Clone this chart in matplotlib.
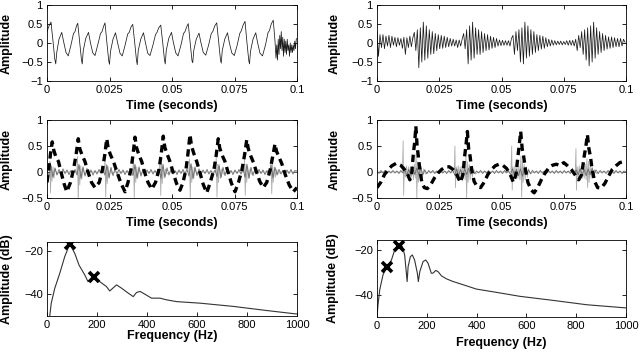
import numpy as np
import matplotlib
matplotlib.use("Agg")
import matplotlib.pyplot as plt

plt.rcParams['font.family'] = ['Liberation Sans', 'DejaVu Sans']

# ---- data (times in ms) ----
# top left: periodic speech waveform
tl_pts = [
    (0, 0.30), (0.8, 0.45), (1.6, 0.55),
    (2.4, 0.05), (3.1, -0.42), (3.5, -0.55), (3.9, -0.25), (4.8, 0.10), (5.9, 0.28), (6.6, 0.05),
    (7.6, -0.25), (8.5, -0.34), (9.6, -0.05), (10.6, 0.25), (11.2, 0.30), (11.8, 0.45), (12.3, 0.52),
    (13.1, 0.00), (13.8, -0.45), (14.1, -0.55), (14.5, -0.20), (15.5, 0.12), (16.6, 0.28), (17.3, 0.03),
    (18.3, -0.26), (19.2, -0.33), (20.3, -0.05), (21.4, 0.25), (22.0, 0.30), (22.7, 0.45), (23.2, 0.53),
    (24.0, -0.02), (24.7, -0.47), (25.0, -0.56), (25.4, -0.22), (26.4, 0.10), (27.4, 0.27), (28.2, 0.02),
    (29.2, -0.27), (30.1, -0.34), (31.3, -0.04), (32.3, 0.24), (32.9, 0.28), (33.6, 0.42), (34.3, 0.49),
    (35.1, 0.00), (35.8, -0.46), (36.1, -0.57), (36.5, -0.20), (37.5, 0.10), (38.6, 0.27), (39.3, 0.03),
    (40.3, -0.27), (41.2, -0.33), (42.4, -0.05), (43.4, 0.22), (44.0, 0.28), (44.7, 0.40), (45.5, 0.47),
    (46.3, 0.00), (47.0, -0.45), (47.3, -0.55), (47.7, -0.20), (48.7, 0.12), (49.8, 0.28), (50.5, 0.03),
    (51.5, -0.26), (52.4, -0.34), (53.6, -0.05), (54.6, 0.25), (55.2, 0.30), (55.9, 0.43), (56.5, 0.51),
    (57.3, 0.00), (58.0, -0.47), (58.3, -0.52), (58.7, -0.20), (59.7, 0.10), (60.8, 0.26), (61.5, 0.03),
    (62.5, -0.25), (63.5, -0.32), (64.7, -0.04), (65.7, 0.25), (66.3, 0.30), (67.1, 0.45), (67.9, 0.53),
    (68.7, 0.00), (69.4, -0.45), (69.7, -0.53), (70.1, -0.20), (71.1, 0.10), (72.2, 0.27), (72.9, 0.02),
    (73.9, -0.26), (74.9, -0.33), (76.1, -0.05), (77.1, 0.25), (77.7, 0.32), (78.5, 0.48), (79.2, 0.57),
    (80.0, 0.00), (80.7, -0.46), (81.0, -0.55), (81.4, -0.22), (82.4, 0.10), (83.5, 0.27), (84.2, 0.02),
    (85.2, -0.27), (86.2, -0.34), (87.4, -0.05), (88.4, 0.27), (89.0, 0.33), (89.7, 0.50), (90.5, 0.60),
    (91.2, 0.05), (91.6, -0.40), (91.9, -0.05), (92.2, -0.45), (92.5, 0.10), (92.8, -0.30), (93.1, 0.20),
    (93.4, -0.15), (93.7, 0.30), (94.0, -0.20), (94.3, 0.15), (94.6, -0.35), (94.9, 0.10), (95.2, -0.25),
    (95.5, 0.05), (95.8, -0.30), (96.1, 0.10), (96.4, -0.20), (96.7, -0.05), (97.0, -0.35), (97.3, 0.00),
    (97.6, -0.25), (97.9, -0.05), (98.2, -0.25), (98.5, -0.05), (98.8, -0.20), (99.1, 0.05), (99.4, -0.15),
    (99.7, 0.10), (100.0, 0.12),
]

# top right: bursts, one value every 0.6 ms (hundredths)
tr_step_ms = 0.6
tr_vals = [
    30, -35, 22, -12, 22, -15, 18, -8, 20, -12, 18, -6, 15, -10, 14, -6, 12, -14, 15, -30, 14, -12, 18, -10, 14,
    28, -20, 35, -65, 40, -50, 55, -45, 45, -40, 35, -30, 30, -28, 25, -20, 22, -15, 20, -14, 18,
    -12, 15, -10, 12, -8, 10, -8, 8, -12, 8, -8, 10,
    25, -15, 35, -55, 45, -45, 55, -40, 40, -30, 35, -30, 30, -25, 25, -20, 22, -18, 18, -14, 15,
    -12, 12, -8, 8, -7, 7, -6, 6, -6, 6, -8, 12,
    20, -30, 30, -20, 35, -50, 40, -55, 55, -40, 45, -35, 35, -30, 30, -25, 22, -20, 20, -16, 18,
    -14, 14, -10, 10, -8, 8, -6, 6, -5, 5, -4, 5, -5, 4, -4, 6, -6, 7, -6, 7, -8, 10,
    -20, 20, -12, 30, -30, 35, -45, 40, -60, 45, -50, 55, -40, 40, -30, 30, -25, 25, -20, 20, -16,
    16, -14, 16, -12, 14, -10, 12, -10, 12, -8, 10, 2,
]

# middle left: dashed source waveform
ml_dash = [
    (0, -0.20), (0.8, 0.10), (1.4, 0.35), (2.1, 0.58),
    (2.7, 0.42), (3.5, 0.30), (4.6, 0.20), (5.6, 0.00), (6.8, -0.22), (7.9, -0.38),
    (9.4, -0.20), (10.6, 0.05), (11.6, 0.32), (12.5, 0.64),
    (13.1, 0.45), (14.0, 0.33), (15.2, 0.20), (16.4, 0.00), (17.8, -0.20), (19.2, -0.30),
    (20.9, -0.20), (22.2, 0.05), (23.1, 0.33), (23.9, 0.64),
    (24.5, 0.45), (25.4, 0.33), (26.6, 0.20), (28.0, 0.00), (29.6, -0.22), (31.2, -0.38),
    (32.4, -0.20), (33.6, 0.05), (34.4, 0.33), (35.2, 0.67),
    (35.8, 0.47), (36.7, 0.34), (37.9, 0.20), (39.0, 0.00), (40.4, -0.20), (41.9, -0.33),
    (43.4, -0.20), (44.8, 0.05), (45.7, 0.35), (46.5, 0.69),
    (47.1, 0.48), (48.0, 0.35), (49.2, 0.20), (50.4, 0.00), (51.8, -0.22), (53.2, -0.35),
    (54.4, -0.20), (55.6, 0.05), (56.4, 0.36), (57.2, 0.72),
    (57.8, 0.50), (58.7, 0.36), (59.9, 0.20), (61.1, 0.00), (62.5, -0.24), (63.9, -0.40),
    (65.3, -0.20), (66.8, 0.05), (67.7, 0.33), (68.5, 0.64),
    (69.1, 0.46), (70.0, 0.33), (71.2, 0.20), (72.4, 0.00), (73.8, -0.22), (75.2, -0.38),
    (76.6, -0.20), (78.0, 0.05), (79.0, 0.32), (79.9, 0.62),
    (80.5, 0.45), (81.4, 0.32), (82.6, 0.18), (83.8, 0.00), (85.1, -0.18), (86.5, -0.30),
    (87.9, -0.20), (89.3, 0.05), (90.3, 0.30), (91.2, 0.54),
    (91.8, 0.40), (92.7, 0.30), (94.0, 0.15), (95.3, -0.05), (96.9, -0.25), (98.5, -0.38), (100, -0.30),
]
# middle left: light grey pulses
ml_pulse = [
    (0, 0), (1.0, 0.05), (1.2, 0.20), (1.4, -0.40), (1.7, 0.12), (2.0, -0.18), (2.4, 0.10), (2.8, -0.12), (3.3, 0.06), (4.0, -0.04), (5.0, 0),
    (11.9, 0), (12.2, 0.30), (12.5, -0.55), (12.8, 0.15), (13.1, -0.25), (13.5, 0.12), (13.9, -0.14), (14.4, 0.07), (15.0, -0.05), (16.0, 0),
    (22.9, 0), (23.2, 0.25), (23.5, -0.48), (23.8, 0.15), (24.1, -0.22), (24.5, 0.10), (24.9, -0.12), (25.4, 0.06), (26.0, -0.04), (27.0, 0),
    (34.3, 0), (34.6, 0.28), (34.9, -0.50), (35.2, 0.15), (35.5, -0.20), (35.9, 0.10), (36.3, -0.12), (36.8, 0.06), (37.4, -0.04), (38.4, 0),
    (44.9, 0), (45.2, 0.30), (45.5, -0.45), (45.8, 0.18), (46.1, -0.22), (46.5, 0.10), (46.9, -0.12), (47.4, 0.06), (48.0, -0.04), (49.0, 0),
    (56.7, 0), (57.0, 0.25), (57.3, -0.50), (57.6, 0.15), (57.9, -0.20), (58.3, 0.10), (58.7, -0.12), (59.2, 0.06), (59.8, -0.04), (60.8, 0),
    (67.4, 0), (67.7, 0.30), (68.0, -0.48), (68.3, 0.15), (68.6, -0.20), (69.0, 0.10), (69.4, -0.12), (69.9, 0.06), (70.5, -0.04), (71.5, 0),
    (78.7, 0), (79.0, 0.25), (79.3, -0.45), (79.6, 0.15), (79.9, -0.20), (80.3, 0.10), (80.7, -0.12), (81.2, 0.06), (81.8, -0.04), (82.8, 0),
    (89.3, 0), (89.6, 0.28), (89.9, -0.42), (90.2, 0.15), (90.5, -0.20), (90.9, 0.10), (91.3, -0.10), (91.8, 0.05), (92.4, -0.03), (93.4, 0), (100, 0),
]
# middle left: dark grey residual, one value every 0.8 ms (hundredths)
noise_step_ms = 0.8
ml_resid = [
    3, -8, 12, -10, 8, -6, 5, -4, 6, -3, 4, -5, 3, -4, 5, -6, 14, -12, 10, -8,
    7, -5, 4, -6, 3, -4, 5, -3, 4, -6, 13, -11, 9, -7, 6, -4, 5, -3, 4, -5,
    3, -4, 5, -7, 14, -12, 10, -8, 6, -5, 4, -3, 5, -4, 3, -5, 6, -12, 15, -10,
    8, -6, 5, -4, 3, -5, 4, -3, 5, -4, 6, -8, 16, -13, 10, -7, 6, -5, 4, -3,
    5, -4, 3, -5, 4, -9, 14, -11, 9, -7, 5, -4, 3, -5, 4, -3, 5, -4, 6, -10,
    15, -12, 9, -7, 6, -4, 5, -3, 4, -5, 3, -6, 13, -11, 9, -6, 5, -4, 3, -5,
    4, -3, 5, -4, 3, 2,
]

# middle right
mr_dash = [
    (0, -0.30), (1.5, -0.20), (3.0, -0.05), (4.5, 0.05), (6.0, 0.12), (7.8, 0.17), (9.5, 0.13), (11.0, 0.05),
    (12.3, -0.05), (13.2, -0.15), (14.0, 0.00), (14.6, 0.35), (15.2, 0.60), (15.6, 0.88), (16.1, 0.50), (16.6, 0.30),
    (17.2, 0.05), (18.0, -0.20), (19.0, -0.30), (20.2, -0.32), (21.5, -0.25), (23.0, -0.12), (24.5, -0.02), (26.0, 0.05),
    (27.5, 0.10), (29.0, 0.10), (30.5, 0.05), (32.0, -0.05), (33.5, -0.20), (34.5, -0.05), (35.2, 0.30), (35.8, 0.55),
    (36.3, 0.78), (36.8, 0.45), (37.4, 0.30), (38.0, 0.05), (39.0, -0.18), (40.2, -0.28), (41.6, -0.30), (43.0, -0.20),
    (44.5, -0.05), (46.0, 0.05), (47.5, 0.12), (49.0, 0.15), (50.5, 0.13), (52.0, 0.07), (53.5, -0.05), (54.8, -0.20),
    (55.8, -0.05), (56.6, 0.30), (57.2, 0.55), (57.7, 0.78), (58.3, 0.45), (58.9, 0.30), (59.6, 0.05), (60.6, -0.20),
    (62.0, -0.35), (63.1, -0.40), (64.5, -0.30), (66.0, -0.15), (67.5, -0.02), (69.0, 0.08), (70.5, 0.13), (72.0, 0.15),
    (73.5, 0.12), (75.0, 0.18), (76.5, 0.12), (78.0, 0.05), (79.5, -0.05), (81.0, -0.15), (82.2, -0.05), (83.2, 0.30),
    (83.9, 0.50), (84.5, 0.72), (85.1, 0.45), (85.7, 0.30), (86.4, 0.05), (87.4, -0.18), (88.6, -0.30), (90.0, -0.31),
    (91.5, -0.22), (93.0, -0.08), (94.5, 0.05), (96.0, 0.12), (97.5, 0.18), (99.0, 0.20), (100, 0.20),
]
mr_pulse = [
    (0, 0), (10.2, 0), (10.5, 0.60), (10.7, -0.45), (11.0, 0.10), (11.4, -0.10), (11.8, 0.12), (12.2, -0.08), (12.6, 0.10),
    (13.0, -0.12), (13.4, 0.10), (13.8, -0.10), (14.2, 0.12), (14.6, -0.15), (15.0, 0.15), (15.4, -0.12), (15.7, 0.35),
    (16.0, -0.50), (16.3, 0.20), (16.6, -0.20), (17.0, 0.15), (17.4, -0.15), (17.8, 0.10), (18.3, -0.10), (18.8, 0.06),
    (19.5, -0.04), (20.5, 0),
    (31.0, 0), (31.3, 0.50), (31.5, -0.30), (31.8, 0.10), (32.2, -0.10), (32.6, 0.12), (33.0, -0.10), (33.4, 0.10),
    (33.8, -0.12), (34.2, 0.12), (34.6, -0.12), (35.0, 0.15), (35.4, -0.15), (35.7, 0.30), (36.0, -0.50), (36.3, 0.20),
    (36.6, -0.20), (37.0, 0.15), (37.4, -0.15), (37.8, 0.10), (38.3, -0.10), (38.8, 0.06), (39.5, -0.04), (40.5, 0),
    (53.8, 0), (54.1, 0.50), (54.3, -0.35), (54.6, 0.10), (55.0, -0.10), (55.4, 0.12), (55.8, -0.10), (56.2, 0.10),
    (56.6, -0.12), (57.0, 0.12), (57.4, -0.15), (57.8, 0.30), (58.1, -0.48), (58.4, 0.20), (58.7, -0.20), (59.1, 0.15),
    (59.5, -0.15), (59.9, 0.10), (60.4, -0.10), (60.9, 0.06), (61.6, -0.04), (62.6, 0),
    (79.6, 0), (79.9, 0.45), (80.1, -0.35), (80.4, 0.10), (80.8, -0.10), (81.2, 0.12), (81.6, -0.10), (82.0, 0.10),
    (82.4, -0.12), (82.8, 0.12), (83.2, -0.12), (83.6, 0.15), (84.0, -0.15), (84.3, 0.25), (84.6, -0.30), (84.9, 0.20),
    (85.2, -0.20), (85.6, 0.15), (86.0, -0.12), (86.4, 0.10), (86.9, -0.08), (87.4, 0.05), (88.1, -0.03), (89.0, 0), (100, 0),
]
mr_resid = [
    2, -3, 3, -2, 3, -3, 2, -2, 3, -2, 2, -3, 3, -2, 4, -6, 5, -7, 6, -5,
    8, -6, 7, -5, 4, -3, 3, -2, 3, -3, 2, -2, 3, -2, 2, -3, 3, -2, 4, -6,
    6, -7, 5, -8, 6, -5, 7, -4, 3, -3, 2, -2, 3, -3, 2, -2, 3, -2, 2, -3,
    3, -2, 2, -3, 3, -2, 2, -5, 6, -6, 5, -7, 6, -8, 7, -5, 4, -3, 3, -2,
    2, -3, 3, -2, 2, -3, 3, -2, 2, -3, 3, -2, 2, -3, 3, -2, 2, -3, 3, -2,
    4, -5, 6, -6, 5, -7, 6, -5, 7, -5, 4, -3, 3, -2, 2, -3, 3, -2, 2, -3,
    3, -2, 2, -3, 2, 0,
]

# spectra (Hz, dB)
sl_freq = [0, 11, 17, 31, 51, 71, 91, 111, 128, 151, 164, 191, 211, 238, 251, 278, 298, 325, 345, 358, 372,
           392, 418, 452, 479, 519, 612, 746, 880, 1000]
sl_db = [-60, -50, -44.1, -37.3, -30.4, -22.7, -16.9, -21.2, -26.6, -31.1, -34.2, -31.9, -34.2, -36.5, -38.5,
         -35.7, -37.2, -39.5, -41.1, -39.2, -38.7, -40.0, -41.8, -41.8, -42.6, -43.4, -44.1, -45.6, -47.5, -49.1]
sl_mark_f = [91, 189]
sl_mark_db = [-16.9, -31.9]

sr_freq = [0, 1.3, 4, 11, 24, 37, 44, 58, 71, 84, 95, 102, 111, 118, 121, 125, 134, 142, 151, 162, 166, 172,
           185, 196, 205, 218, 225, 236, 245, 259, 279, 306, 346, 399, 466, 574, 708, 842, 1000]
sr_db = [-55, -47.7, -44.1, -37.5, -31.0, -28.0, -27.3, -24.4, -20.0, -18.1, -17.8, -18.5, -22.2, -30.2, -33.9,
         -27.3, -22.9, -22.2, -24.4, -30.2, -33.9, -29.5, -25.1, -24.4, -25.8, -30.2, -30.2, -29.0, -29.5, -31.4,
         -32.7, -33.9, -35.3, -37.2, -38.4, -40.4, -42.2, -44.1, -45.5]
sr_mark_f = [42, 88]
sr_mark_db = [-27.3, -18.1]

time_ticks = [0, 0.025, 0.05, 0.075, 0.1]
time_labels = ['0', '0.025', '0.05', '0.075', '0.1']
freq_ticks = [0, 200, 400, 600, 800, 1000]


def pts(p):
    a = np.array(p, dtype=float)
    return a[:, 0] / 1000.0, a[:, 1]


def sampled(vals, step_ms):
    v = np.array(vals, dtype=float) / 100.0
    return np.arange(len(v)) * step_ms / 1000.0, v


def style(ax, ylab, xlab, ylab_x, xlab_y):
    ax.tick_params(direction='in', top=True, right=True, length=3, width=0.6, labelsize=8, pad=3)
    for s in ax.spines.values():
        s.set_linewidth(0.6)
    ax.set_ylabel(ylab, fontsize=9, fontweight='bold')
    ax.set_xlabel(xlab, fontsize=9, fontweight='bold')
    ax.yaxis.set_label_coords(ylab_x, 0.5)
    ax.xaxis.set_label_coords(0.5, xlab_y)


fig = plt.figure(figsize=(6.4, 3.52), dpi=100)
W, H = 640.0, 352.0


def axes_px(x0, y0, x1, y1):
    return fig.add_axes([x0 / W, 1 - y1 / H, (x1 - x0) / W, (y1 - y0) / H])


# top row
for (x0, x1), ser, lx in [((47, 297), 'tl', -0.137), ((377, 626), 'tr', -0.145)]:
    ax = axes_px(x0, 5, x1, 81)
    if ser == 'tl':
        t, y = pts(tl_pts)
    else:
        t, y = sampled(tr_vals, tr_step_ms)
    ax.plot(t, y, color='0.1', lw=0.55)
    ax.set_xlim(0, 0.1)
    ax.set_ylim(-1, 1)
    ax.set_xticks(time_ticks, time_labels)
    ax.set_yticks([-1, -0.5, 0, 0.5, 1], ['\u22121', '\u22120.5', '0', '0.5', '1'])
    style(ax, 'Amplitude', 'Time (seconds)', lx, -0.25)

# middle row
for (x0, x1), dash, pulse, resid, lx in [((47, 297), ml_dash, ml_pulse, ml_resid, -0.137),
                                          ((377, 626), mr_dash, mr_pulse, mr_resid, -0.145)]:
    ax = axes_px(x0, 120, x1, 198)
    t, y = pts(pulse)
    ax.plot(t, y, color='0.68', lw=0.6)
    t, y = sampled(resid, noise_step_ms)
    ax.plot(t, y, color='0.42', lw=0.6)
    t, y = pts(dash)
    ax.plot(t, y, color='black', lw=2.4, dashes=(2.2, 1.4))
    ax.set_xlim(0, 0.1)
    ax.set_ylim(-0.5, 1)
    ax.set_xticks(time_ticks, time_labels)
    ax.set_yticks([-0.5, 0, 0.5, 1], ['\u22120.5', '0', '0.5', '1'])
    style(ax, 'Amplitude', 'Time (seconds)', lx, -0.245)

# bottom row: spectra
for (x0, y0, x1, y1), f, db, mf, mdb, ylim, lx, xly in [
        ((47, 242, 297, 316), sl_freq, sl_db, sl_mark_f, sl_mark_db, (-50, -16), -0.137, -0.19),
        ((377, 240, 626, 317), sr_freq, sr_db, sr_mark_f, sr_mark_db, (-49.5, -15.6), -0.153, -0.26)]:
    ax = axes_px(x0, y0, x1, y1)
    ax.plot(f, db, color='0.2', lw=0.8)
    ax.plot(mf, mdb, 'x', color='black', ms=7, mew=2.6)
    ax.set_xlim(0, 1000)
    ax.set_ylim(*ylim)
    ax.set_xticks(freq_ticks)
    ax.set_yticks([-40, -20], ['\u221240', '\u221220'])
    style(ax, 'Amplitude (dB)', 'Frequency (Hz)', lx, xly)

fig.savefig('out.png', dpi=100)
